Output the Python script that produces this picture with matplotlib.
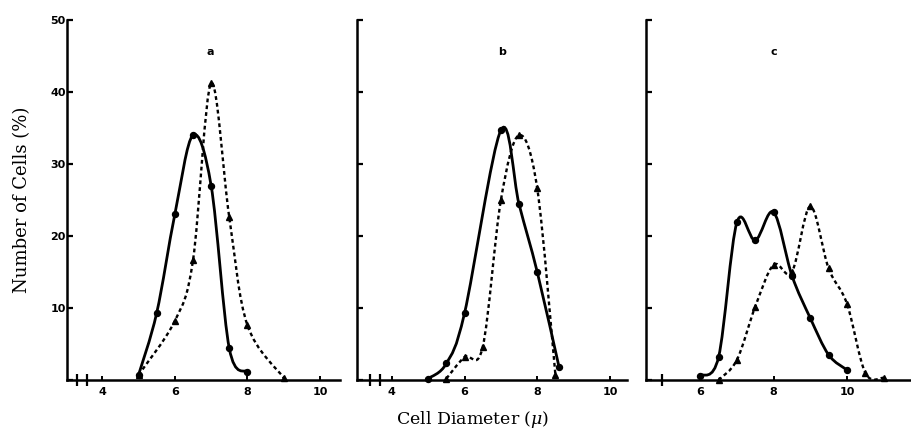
import matplotlib
matplotlib.use("Agg")
import matplotlib.pyplot as plt
import matplotlib.patches as mpatches
from matplotlib.path import Path
import numpy as np

plt.rcParams["mathtext.fontset"] = "dejavuserif"

# panel a
a_x_circ = [5.0, 5.5, 6.0, 6.5, 7.0, 7.5, 8.0]
a_y_circ = [0.7, 9.3, 23.0, 34.0, 27.0, 4.4, 1.1]
a_x_tri = [5.0, 6.0, 6.5, 7.0, 7.5, 8.0, 9.0]
a_y_tri = [0.7, 8.2, 16.6, 41.2, 22.6, 7.6, 0.3]

# panel b
b_x_circ = [5.0, 5.5, 6.0, 7.0, 7.5, 8.0, 8.6]
b_y_circ = [0.2, 2.3, 9.3, 34.7, 24.4, 15.0, 1.8]
b_x_tri = [5.5, 6.0, 6.5, 7.0, 7.5, 8.0, 8.5]
b_y_tri = [0.2, 3.2, 4.6, 25.0, 34.0, 26.6, 0.7]

# panel c
c_x_circ = [6.0, 6.5, 7.0, 7.5, 8.0, 8.5, 9.0, 9.5, 10.0]
c_y_circ = [0.6, 3.2, 21.9, 19.4, 23.3, 14.5, 8.6, 3.5, 1.4]
c_x_tri = [6.5, 7.0, 7.5, 8.0, 8.5, 9.0, 9.5, 10.0, 10.5, 11.0]
c_y_tri = [0.0, 2.8, 10.2, 16.0, 15.0, 24.1, 15.5, 10.6, 1.0, 0.3]

y_ticks = [0, 10, 20, 30, 40, 50]
y_ticklabels = ["", "10", "20", "30", "40", "50"]
panel_names = ["a", "b", "c"]


def smooth_path(xs, ys):
    # catmull-rom through the points, drawn as bezier segments
    pts = np.column_stack([xs, ys]).astype(float)
    n = len(pts)
    verts = [pts[0]]
    codes = [Path.MOVETO]
    for i in range(n - 1):
        p0 = pts[max(i - 1, 0)]
        p1 = pts[i]
        p2 = pts[i + 1]
        p3 = pts[min(i + 2, n - 1)]
        verts += [p1 + (p2 - p0) / 6, p2 - (p3 - p1) / 6, p2]
        codes += [Path.CURVE4] * 3
    return Path(verts, codes)


def draw_curve(ax, xs, ys, marker, dashed):
    ls = (0, (1.6, 1.3)) if dashed else "-"
    lw = 1.7 if dashed else 2.0
    patch = mpatches.PathPatch(smooth_path(xs, ys), fill=False, edgecolor="black",
                               linewidth=lw, linestyle=ls, capstyle="butt")
    ax.add_patch(patch)
    ms = 5.0 if marker == "^" else 4.3
    ax.plot(xs, ys, linestyle="none", marker=marker, ms=ms, color="black",
            clip_on=False, zorder=3)


fig = plt.figure(figsize=(9.11, 4.36), dpi=100)
bottom = 1 - 380 / 436
height = (380 - 20) / 436
boxes = [(67, 340), (357, 627), (646, 910)]
xlims = [(3.03, 10.55), (3.04, 10.47), (4.52, 11.72)]
xticks = [[4, 6, 8, 10], [4, 6, 8, 10], [6, 8, 10]]
breaks = [[3.31, 3.59], [3.39, 3.67], [4.95]]
series = [
    (a_x_circ, a_y_circ, a_x_tri, a_y_tri),
    (b_x_circ, b_y_circ, b_x_tri, b_y_tri),
    (c_x_circ, c_y_circ, c_x_tri, c_y_tri),
]
label_x = [6.97, 7.03, 8.0]

for i in range(3):
    x0, x1 = boxes[i]
    ax = fig.add_axes([x0 / 911, bottom, (x1 - x0) / 911, height])
    ax.set_xlim(*xlims[i])
    ax.set_ylim(0, 50)
    for s in ["top", "right"]:
        ax.spines[s].set_visible(False)
    for s in ["left", "bottom"]:
        ax.spines[s].set_linewidth(1.8)
    ax.set_yticks(y_ticks)
    ax.tick_params(axis="y", direction="in", length=4, width=1.6, pad=1)
    if i == 0:
        ax.set_yticklabels(y_ticklabels, fontsize=8, fontweight="bold")
    else:
        ax.set_yticklabels([])
    ax.set_xticks(xticks[i])
    ax.set_xticklabels([str(t) for t in xticks[i]], fontsize=8, fontweight="bold")
    ax.tick_params(axis="x", direction="in", length=3, width=1.4, pad=5)

    xc, yc, xt, yt = series[i]
    draw_curve(ax, xc, yc, "o", False)
    draw_curve(ax, xt, yt, "^", True)

    ax.plot(breaks[i], [0] * len(breaks[i]), linestyle="none", marker="|",
            ms=8, mew=1.6, color="black", clip_on=False)
    ax.text(label_x[i], 45.6, panel_names[i], fontsize=8, fontweight="bold",
            ha="center", va="center")

fig.text(22 / 911, 1 - 200 / 436, "Number of Cells (%)", rotation=90,
         ha="center", va="center", fontsize=13, family="DejaVu Serif")
fig.text(473 / 911, 1 - 419 / 436, "Cell Diameter ($\\mu$)", ha="center",
         va="center", fontsize=12.5, family="DejaVu Serif")

fig.savefig("out.png", dpi=100)
